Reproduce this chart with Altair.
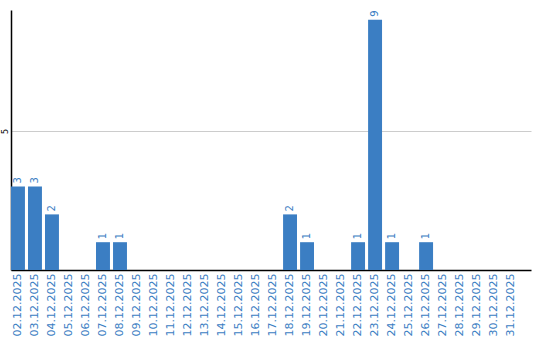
import altair as alt
import pandas as pd

dates = [f"{d:02d}.12.2025" for d in range(2, 32)]
counts = [3, 3, 2, 0, 0, 1, 1, 0, 0, 0, 0, 0, 0, 0, 0, 0, 2, 1, 0, 0, 1, 9, 1, 0, 1, 0, 0, 0, 0, 0]

df = pd.DataFrame({"date": dates, "count": counts})
lab = df[df["count"] > 0]

BLUE = "#3b7ec3"

x = alt.X("date:N", sort=dates, title=None,
          scale=alt.Scale(paddingInner=0.18, paddingOuter=0.38, align=0),
          axis=alt.Axis(labelAngle=-90, labelColor=BLUE, labelFont="DejaVu Sans",
                        labelFontSize=11, ticks=False, labelPadding=3,
                        domainColor="black", domainWidth=1.5, labelAlign="right",
                        labelBaseline="middle"))
y = alt.Y("count:Q", title=None, scale=alt.Scale(domain=[0, 9.35], nice=False),
          axis=alt.Axis(values=[5], labelAngle=-90, ticks=False, labelFontSize=8,
                        labelColor="black", labelFont="DejaVu Sans", domainColor="black",
                        domainWidth=1.5, gridColor="#cccccc", labelPadding=2,
                        labelAlign="center", labelBaseline="bottom"))

bars = alt.Chart(df).mark_bar(color=BLUE).encode(x=x, y=y)
text = alt.Chart(lab).mark_text(angle=270, align="left", baseline="middle", dx=3,
                                 color=BLUE, font="DejaVu Sans", fontSize=10).encode(
    x=alt.X("date:N", sort=dates), y="count:Q", text="count:Q")

chart = (bars + text).properties(
    width=520, height=260,
    padding={"left": 11, "top": 10, "right": 9, "bottom": 70},
    autosize=alt.AutoSizeParams(type="none"),
).configure_view(stroke=None).configure_axisX(grid=False)

chart.save("out.html", embed_options={"renderer": "svg", "actions": False})
